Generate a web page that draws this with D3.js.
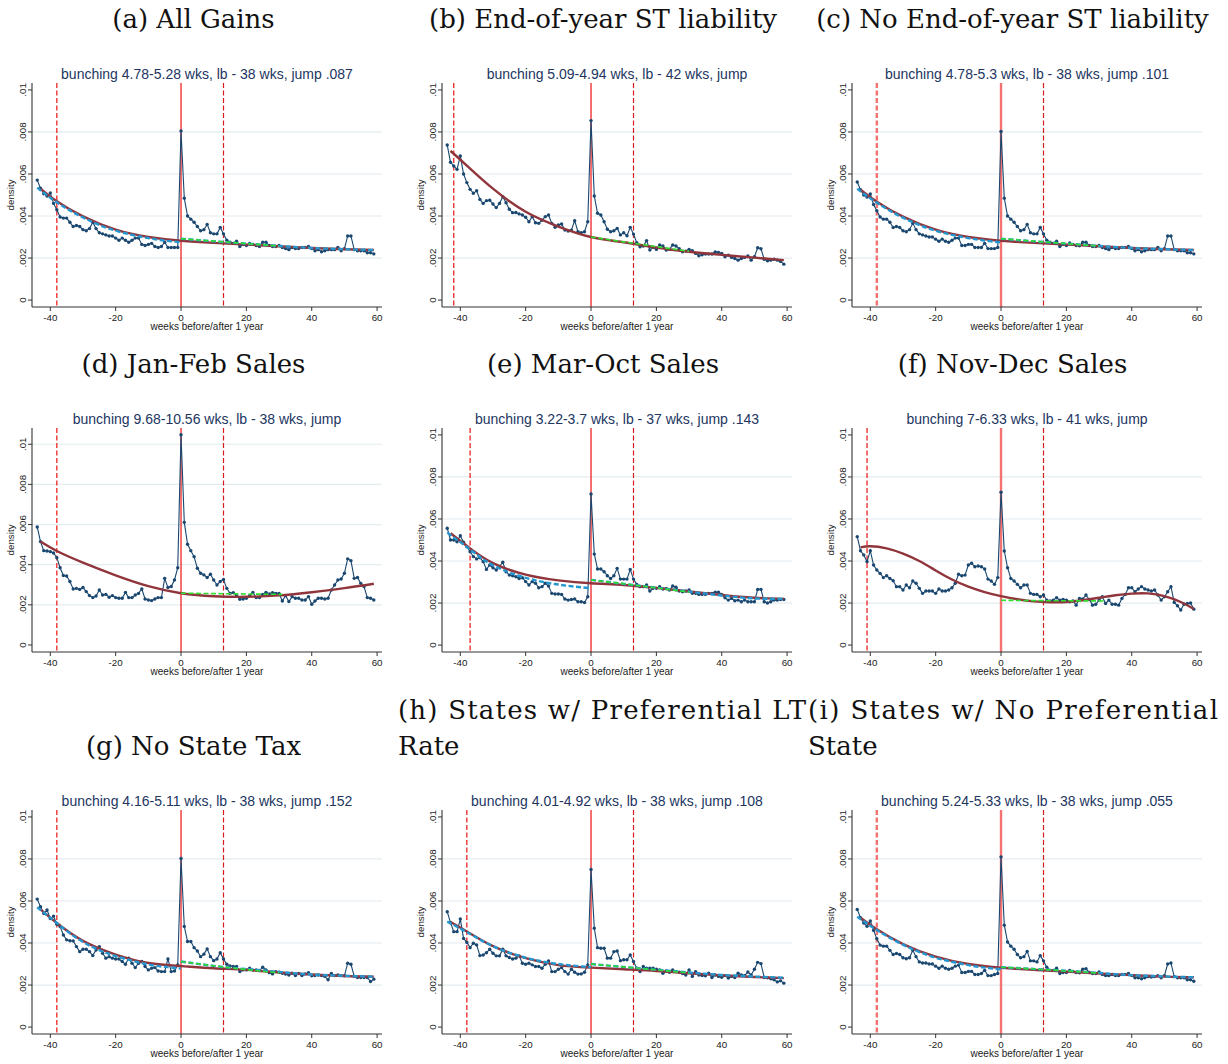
<!DOCTYPE html>
<html><head><meta charset="utf-8">
<script src="https://cdn.jsdelivr.net/npm/d3@7"></script>
<style>body{margin:0;background:#fff} svg{display:block}</style>
</head><body><svg id="chart" width="1228" height="1064"></svg>
<script>
// ---------- DATA (density values in thousandths, i.e. value * 0.001) ----------
const DENSITY_UNIT = 0.001;
const WEEKS = [-44,-43,-42,-41,-40,-39,-38,-37,-36,-35,-34,-33,-32,-31,-30,-29,-28,-27,-26,-25,-24,-23,-22,-21,-20,-19,-18,-17,-16,-15,-14,-13,-12,-11,-10,-9,-8,-7,-6,-5,-4,-3,-2,-1,0,1,2,3,4,5,6,7,8,9,10,11,12,13,14,15,16,17,18,19,20,21,22,23,24,25,26,27,28,29,30,31,32,33,34,35,36,37,38,39,40,41,42,43,44,45,46,47,48,49,50,51,52,53,54,55,56,57,58,59];
const X_TICKS = [-40,-20,0,20,40,60];
const X_TICK_LABELS = ["-40","-20","0","20","40","60"];
const Y_TICKS = [0,2,4,6,8,10];
const Y_TICK_LABELS = ["0",".002",".004",".006",".008",".01"];
const UPPER_BOUND_WEEK = 13;

const DENS_A = [5.71,5.32,5.06,4.95,5.1,4.6,4.3,3.95,3.9,3.9,
 3.7,3.5,3.55,3.5,3.35,3.3,3.4,3.7,3.4,3.2,
 3.15,3.1,3.05,3.05,2.95,2.85,2.95,2.85,2.75,2.85,
 2.95,2.95,2.65,2.6,2.65,2.7,2.55,2.5,2.55,2.75,
 2.5,2.5,2.5,2.5,8.05,4.85,4.0,3.85,3.7,3.5,
 3.3,3.35,3.6,3.2,3.15,3.15,3.45,3.15,2.85,2.75,
 2.7,2.8,2.55,2.65,2.6,2.7,2.65,2.6,2.55,2.75,
 2.75,2.6,2.55,2.55,2.6,2.5,2.45,2.4,2.5,2.45,
 2.45,2.5,2.5,2.55,2.45,2.35,2.4,2.3,2.35,2.4,
 2.4,2.4,2.5,2.35,2.45,3.05,3.05,2.4,2.35,2.35,
 2.35,2.25,2.25,2.2];
const DENS_B = [7.38,6.56,6.38,6.22,6.86,6.0,5.59,5.27,5.08,5.2,
 4.79,4.6,4.73,4.75,4.57,4.4,4.6,4.92,4.63,4.32,
 4.16,4.17,4.1,4.05,3.94,3.73,3.97,3.68,3.65,3.8,
 3.97,4.05,3.65,3.46,3.57,3.62,3.33,3.29,3.33,3.78,
 3.25,3.2,3.25,3.73,8.54,4.95,4.13,4.05,3.73,3.37,
 3.25,3.3,3.41,3.1,3.2,3.06,3.46,3.14,2.73,2.54,
 2.57,2.83,2.38,2.51,2.41,2.62,2.57,2.38,2.41,2.62,
 2.57,2.44,2.3,2.33,2.41,2.35,2.22,2.11,2.16,2.19,
 2.19,2.19,2.29,2.27,2.22,2.06,2.14,2.03,1.98,1.9,
 1.98,2.03,2.1,1.9,2.06,2.49,2.44,1.94,1.87,1.9,
 1.94,1.9,1.84,1.71];
const DENS_C = [5.62,5.25,5.0,4.9,5.05,4.55,4.25,3.95,3.85,3.85,
 3.7,3.45,3.5,3.45,3.3,3.25,3.35,3.65,3.35,3.15,
 3.1,3.05,3.0,3.0,2.9,2.8,2.9,2.8,2.75,2.85,
 2.95,2.95,2.6,2.6,2.65,2.65,2.5,2.5,2.5,2.7,
 2.45,2.45,2.45,2.5,8.02,4.85,4.0,3.85,3.7,3.5,
 3.3,3.35,3.6,3.2,3.15,3.15,3.45,3.15,2.85,2.75,
 2.7,2.8,2.55,2.65,2.6,2.72,2.65,2.6,2.58,2.75,
 2.75,2.6,2.55,2.55,2.6,2.5,2.45,2.4,2.5,2.45,
 2.45,2.5,2.5,2.55,2.45,2.35,2.4,2.3,2.35,2.4,
 2.4,2.4,2.5,2.35,2.45,3.05,3.05,2.4,2.35,2.35,
 2.35,2.25,2.25,2.2];
const DENS_D = [5.88,5.15,4.7,4.68,4.65,4.58,4.35,3.85,3.46,3.44,
 3.16,2.79,2.82,2.77,2.86,2.66,2.46,2.36,2.44,2.74,
 2.49,2.52,2.38,2.46,2.36,2.33,2.33,2.62,2.36,2.36,
 2.49,2.57,2.79,2.29,2.24,2.21,2.29,2.36,2.36,3.32,
 2.86,2.91,3.24,3.85,10.47,6.11,5.02,4.7,4.4,3.82,
 3.57,3.49,3.36,3.52,3.24,2.99,3.16,3.26,2.82,2.57,
 2.61,2.46,2.28,2.29,2.33,2.46,2.62,2.36,2.36,2.52,
 2.62,2.54,2.61,2.57,2.57,2.19,2.46,2.16,2.41,2.33,
 2.33,2.24,2.24,2.41,2.03,2.19,2.33,2.33,2.29,2.33,
 2.74,2.99,3.24,3.29,3.57,4.29,4.2,3.32,3.36,3.07,
 2.91,2.36,2.33,2.24];
const DENS_E = [5.56,5.0,5.0,4.92,5.2,4.89,4.68,4.44,4.21,4.1,
 4.16,3.97,3.6,3.81,3.68,3.57,3.73,3.94,3.49,3.33,
 3.3,3.25,3.17,3.2,3.02,2.86,3.02,2.94,2.73,2.78,
 2.94,2.81,2.46,2.43,2.43,2.41,2.19,2.14,2.17,2.19,
 2.06,2.06,2.02,2.3,7.19,4.33,3.62,3.62,3.49,3.3,
 3.17,3.3,3.65,3.14,3.14,3.14,3.6,3.14,2.89,2.78,
 2.78,2.86,2.57,2.7,2.7,2.78,2.67,2.7,2.62,2.81,
 2.75,2.57,2.54,2.57,2.62,2.46,2.46,2.41,2.41,2.41,
 2.46,2.46,2.51,2.51,2.41,2.25,2.14,2.22,2.11,2.14,
 2.06,2.14,2.06,2.06,2.06,2.65,2.65,2.06,2.0,2.06,
 2.14,2.14,2.17,2.17];
const DENS_F = [5.16,4.49,4.29,3.97,4.49,3.81,3.57,3.41,3.21,3.3,
 3.17,3.06,2.78,2.78,2.62,2.86,2.73,3.05,2.94,2.7,
 2.46,2.57,2.57,2.57,2.46,2.67,2.57,2.57,2.62,2.73,
 2.94,3.37,3.3,3.33,3.81,3.89,3.73,3.76,3.73,3.62,
 3.14,3.05,2.89,3.21,7.27,4.48,3.68,3.17,3.05,2.89,
 2.73,2.86,2.86,2.46,2.41,2.41,2.3,2.38,2.14,2.1,
 2.14,2.25,2.14,2.17,2.14,2.06,2.1,1.9,2.22,2.19,
 2.38,2.17,1.9,1.94,2.14,2.3,1.98,2.14,1.94,1.94,
 1.9,2.22,2.41,2.73,2.73,2.54,2.67,2.78,2.67,2.62,
 2.57,2.62,2.38,2.14,2.3,2.54,2.78,2.03,1.87,1.67,
 1.94,1.98,2.0,1.71];
const DENS_G = [6.09,5.73,5.41,5.57,5.17,5.28,4.89,4.78,4.38,4.15,
 4.11,4.1,3.83,3.59,3.7,3.7,3.59,3.4,3.67,3.83,
 3.51,3.28,3.35,3.28,3.24,3.24,3.12,2.99,3.28,3.04,
 2.83,3.04,3.12,2.88,2.72,2.8,2.83,2.67,2.64,2.64,
 3.24,2.64,2.67,2.96,8.02,4.79,4.07,4.07,3.78,3.62,
 3.35,3.47,3.72,3.35,3.16,3.24,3.54,3.24,2.99,2.91,
 2.88,2.88,2.64,2.72,2.72,2.8,2.71,2.72,2.69,2.85,
 2.72,2.59,2.53,2.64,2.61,2.56,2.52,2.48,2.56,2.45,
 2.55,2.45,2.53,2.59,2.44,2.45,2.48,2.45,2.41,2.25,
 2.55,2.45,2.48,2.45,2.44,3.04,2.99,2.41,2.36,2.36,
 2.36,2.36,2.17,2.28];
const DENS_H = [5.49,4.97,4.54,4.54,5.14,4.22,4.03,3.78,3.99,3.91,
 3.4,3.43,3.54,3.7,3.51,3.39,3.39,3.7,3.39,3.31,
 3.24,3.28,3.39,3.04,2.99,3.04,2.96,2.88,2.88,2.8,
 2.99,3.15,2.64,2.64,2.75,2.83,2.64,2.52,2.75,2.61,
 2.52,2.53,2.61,2.96,7.5,4.7,3.78,3.75,3.75,3.28,
 3.28,3.59,3.62,3.16,3.2,3.2,3.43,3.12,2.8,2.64,
 2.88,2.8,2.8,2.8,2.75,2.72,2.56,2.67,2.61,2.72,
 2.64,2.61,2.55,2.48,2.72,2.41,2.64,2.48,2.45,2.44,
 2.56,2.36,2.48,2.41,2.37,2.45,2.33,2.41,2.36,2.56,
 2.48,2.45,2.62,2.48,2.75,3.08,3.02,2.36,2.35,2.3,
 2.25,2.15,2.2,2.09];
const DENS_I = [5.6,5.2,4.95,4.8,5.05,4.6,4.2,3.9,3.85,3.85,
 3.65,3.45,3.5,3.45,3.3,3.25,3.3,3.65,3.35,3.1,
 3.05,3.05,3.0,3.0,2.9,2.8,2.9,2.8,2.75,2.8,
 2.9,2.95,2.6,2.6,2.65,2.65,2.5,2.5,2.55,2.7,
 2.45,2.45,2.5,2.55,8.1,4.85,4.05,3.85,3.7,3.45,
 3.3,3.35,3.6,3.15,3.15,3.1,3.4,3.15,2.85,2.7,
 2.7,2.8,2.55,2.6,2.6,2.7,2.65,2.6,2.58,2.75,
 2.78,2.6,2.55,2.55,2.62,2.5,2.45,2.45,2.5,2.45,
 2.45,2.5,2.5,2.55,2.45,2.35,2.35,2.3,2.35,2.4,
 2.38,2.4,2.45,2.35,2.45,3.0,3.05,2.4,2.35,2.35,
 2.35,2.25,2.25,2.18];

// fitted curves: [week, density in thousandths]
const RED_A = [[-43,5.3],[-38,4.7],[-30,3.98],[-20,3.35],[-10,3.0],[0,2.82],[10,2.72],[20,2.64],[30,2.56],[40,2.48],[50,2.42],[59,2.38]];
const BLUEPRE_A = [[-44,5.35],[-38,4.65],[-30,3.93],[-20,3.3],[-10,2.95],[-5,2.83],[0,2.75]];
const BLUEPOST_A = [[0,2.92],[13,2.76],[26,2.62],[40,2.48],[59,2.38]];
const GREEN_A = [[0,2.92],[13,2.77],[30,2.57]];

const RED_B = [[-43,7.1],[-38,6.4],[-30,5.3],[-20,4.2],[-10,3.5],[0,3.0],[10,2.75],[20,2.5],[30,2.3],[40,2.15],[50,2.02],[59,1.9]];
const GREEN_B = [[0,3.0],[13,2.7],[30,2.32]];

const RED_C = [[-43,5.25],[-38,4.68],[-30,3.97],[-20,3.35],[-10,3.0],[0,2.82],[10,2.72],[20,2.64],[30,2.56],[40,2.48],[50,2.42],[59,2.38]];
const BLUEPRE_C = [[-44,5.3],[-38,4.63],[-30,3.92],[-20,3.3],[-10,2.95],[-5,2.83],[0,2.75]];
const BLUEPOST_C = [[0,2.92],[13,2.76],[26,2.62],[40,2.48],[59,2.38]];
const GREEN_C = [[0,2.92],[13,2.77],[30,2.57]];

const RED_D = [[-43,5.15],[-38,4.68],[-30,4.1],[-20,3.47],[-10,2.93],[0,2.58],[10,2.43],[20,2.4],[30,2.47],[40,2.63],[50,2.83],[59,3.05]];
const GREEN_D = [[0,2.58],[15,2.55],[31,2.52]];

const RED_E = [[-43,5.32],[-37,4.6],[-30,3.9],[-20,3.35],[-10,3.08],[0,2.94],[10,2.86],[20,2.72],[30,2.55],[40,2.38],[50,2.25],[59,2.2]];
const BLUEPRE_E = [[-44,5.35],[-37,4.55],[-30,3.8],[-20,3.2],[-10,2.88],[0,2.7]];
const BLUEPOST_E = [[0,3.1],[13,2.86],[26,2.62],[40,2.36],[50,2.22],[59,2.2]];
const GREEN_E = [[0,3.1],[13,2.86],[30,2.52]];

const RED_F = [[-43,4.65],[-40,4.7],[-35,4.6],[-30,4.35],[-25,4.0],[-20,3.55],[-15,3.12],[-10,2.78],[-5,2.52],[0,2.33],[5,2.18],[10,2.08],[15,2.04],[20,2.05],[25,2.13],[30,2.25],[35,2.37],[40,2.45],[45,2.46],[50,2.33],[55,2.05],[59,1.72]];
const GREEN_F = [[0,2.13],[16,2.11],[32,2.1]];

const RED_G = [[-43,5.6],[-38,4.95],[-30,4.1],[-20,3.45],[-10,3.05],[0,2.9],[10,2.8],[20,2.72],[30,2.6],[40,2.5],[50,2.43],[59,2.4]];
const BLUEPRE_G = [[-44,5.7],[-38,4.95],[-30,4.05],[-20,3.38],[-10,2.98],[-5,2.87],[0,2.78]];
const BLUEPOST_G = [[0,3.12],[13,2.86],[26,2.68],[40,2.5],[59,2.4]];
const GREEN_G = [[0,3.12],[13,2.86],[30,2.58]];

const RED_H = [[-43,5.0],[-38,4.55],[-30,3.85],[-20,3.28],[-10,2.95],[0,2.83],[10,2.75],[20,2.67],[30,2.56],[40,2.46],[50,2.38],[59,2.33]];
const BLUEPRE_H = [[-44,5.02],[-38,4.52],[-30,3.85],[-20,3.3],[-10,3.0],[0,2.85]];
const BLUEPOST_H = [[0,3.0],[13,2.82],[26,2.65],[40,2.48],[59,2.35]];
const GREEN_H = [[0,3.0],[13,2.82],[30,2.58]];

const RED_I = [[-43,5.2],[-38,4.65],[-30,3.95],[-20,3.35],[-10,3.0],[0,2.82],[10,2.72],[20,2.64],[30,2.55],[40,2.47],[50,2.4],[59,2.37]];
const BLUEPRE_I = [[-44,5.25],[-38,4.62],[-30,3.92],[-20,3.3],[-10,2.95],[-5,2.83],[0,2.75]];
const BLUEPOST_I = [[0,2.85],[13,2.74],[26,2.62],[40,2.47],[59,2.37]];
const GREEN_I = [[0,2.85],[13,2.74],[30,2.57]];

const LB_WEEKS = [-38,-42,-38,-38,-37,-41,-38,-38,-38];
const PANEL_TITLES = ["(a) All Gains","(b) End-of-year ST liability","(c) No End-of-year ST liability",
 "(d) Jan-Feb Sales","(e) Mar-Oct Sales","(f) Nov-Dec Sales",
 "(g) No State Tax","(h) States w/ Preferential LT Rate","(i) States w/ No Preferential State"];
const SUBTITLES = ["bunching 4.78-5.28 wks, lb - 38 wks, jump .087","bunching 5.09-4.94 wks, lb - 42 wks, jump",
 "bunching 4.78-5.3 wks, lb - 38 wks, jump .101","bunching 9.68-10.56 wks, lb - 38 wks, jump",
 "bunching 3.22-3.7 wks, lb - 37 wks, jump .143","bunching 7-6.33 wks, lb - 41 wks, jump",
 "bunching 4.16-5.11 wks, lb - 38 wks, jump .152","bunching 4.01-4.92 wks, lb - 38 wks, jump .108",
 "bunching 5.24-5.33 wks, lb - 38 wks, jump .055"];
const X_TITLE = "weeks before/after 1 year";
const Y_TITLE = "density";

const PANELS = [
 {dens:DENS_A, red:RED_A, bluePre:BLUEPRE_A, bluePost:BLUEPOST_A, green:GREEN_A},
 {dens:DENS_B, red:RED_B, green:GREEN_B},
 {dens:DENS_C, red:RED_C, bluePre:BLUEPRE_C, bluePost:BLUEPOST_C, green:GREEN_C},
 {dens:DENS_D, red:RED_D, green:GREEN_D},
 {dens:DENS_E, red:RED_E, bluePre:BLUEPRE_E, bluePost:BLUEPOST_E, green:GREEN_E},
 {dens:DENS_F, red:RED_F, green:GREEN_F},
 {dens:DENS_G, red:RED_G, bluePre:BLUEPRE_G, bluePost:BLUEPOST_G, green:GREEN_G},
 {dens:DENS_H, red:RED_H, bluePre:BLUEPRE_H, bluePost:BLUEPOST_H, green:GREEN_H},
 {dens:DENS_I, red:RED_I, bluePre:BLUEPRE_I, bluePost:BLUEPOST_I, green:GREEN_I}
];

// ---------- LAYOUT / STYLE ----------
const COL_LEFT = [32, 442, 852];
const PLOT_W = 350, PLOT_H = 224;
const ROW_BOTTOM = [307, 652, 1034];
const X_DOMAIN = [-45.6, 61.5];
const Y_DOMAIN_STD = [-0.33, 10.33];
const Y_DOMAIN_D = [-0.35, 10.81];
const C = {navy:"#1a476f", maroon:"#90353b", blue:"#2496d0", green:"#2fdc2f", red:"#ee1111",
  pink:"#f47272", grid:"#e3ecef", axis:"#333", text:"#222", sub:"#22355f"};
const SANS = "'Liberation Sans', Arial, sans-serif";
const SERIF = "'DejaVu Serif', serif";

const svg = d3.select("#chart");
svg.append("rect").attr("width",1228).attr("height",1064).attr("fill","#fff");

PANELS.forEach((p, i) => {
  const col = i % 3, row = Math.floor(i / 3);
  const L = COL_LEFT[col], B = ROW_BOTTOM[row], T = B - PLOT_H;
  const yDom = i === 3 ? Y_DOMAIN_D : Y_DOMAIN_STD;
  const x = d3.scaleLinear().domain(X_DOMAIN).range([L, L + PLOT_W]);
  const yk = d3.scaleLinear().domain(yDom).range([B, T]);
  const g = svg.append("g");

  // gridlines
  const gridTicks = Y_TICKS.filter(t => t > 0 && yk(t) - T > 12);
  g.selectAll(".grid").data(gridTicks).join("line")
    .attr("x1", L).attr("x2", L + PLOT_W)
    .attr("y1", d => yk(d)).attr("y2", d => yk(d))
    .attr("stroke", C.grid).attr("stroke-width", 1.2);

  // vertical reference lines
  const thickZero = (i === 2 || i === 5 || i === 8);
  const thickLb = (i === 2 || i === 8);
  g.append("line").attr("x1", x(LB_WEEKS[i])).attr("x2", x(LB_WEEKS[i])).attr("y1", T).attr("y2", B)
    .attr("stroke", thickLb ? C.pink : C.red).attr("stroke-width", thickLb ? 2.4 : 1.2)
    .attr("stroke-dasharray", "5,2.5");
  g.append("line").attr("x1", x(UPPER_BOUND_WEEK)).attr("x2", x(UPPER_BOUND_WEEK)).attr("y1", T).attr("y2", B)
    .attr("stroke", "#d81a1a").attr("stroke-width", 1.2).attr("stroke-dasharray", "5,2.5");
  g.append("line").attr("x1", x(0)).attr("x2", x(0)).attr("y1", T).attr("y2", B)
    .attr("stroke", thickZero ? C.pink : C.red).attr("stroke-width", thickZero ? 2.4 : 1.2);

  // data series
  const pts = WEEKS.map((w, k) => [w, p.dens[k] * DENSITY_UNIT]);
  const dline = d3.line().x(d => x(d[0])).y(d => yk(d[1] / DENSITY_UNIT));
  g.append("path").attr("d", dline(pts)).attr("fill", "none").attr("stroke", C.navy).attr("stroke-width", 1.1);
  g.selectAll(".pt").data(pts).join("circle")
    .attr("cx", d => x(d[0])).attr("cy", d => yk(d[1] / DENSITY_UNIT)).attr("r", 1.7).attr("fill", C.navy);

  // fitted curves
  const fit = d3.line().x(d => x(d[0])).y(d => yk(d[1])).curve(d3.curveNatural);
  g.append("path").attr("d", fit(p.red)).attr("fill", "none").attr("stroke", C.maroon).attr("stroke-width", 2.4);
  if (p.bluePre) {
    g.append("path").attr("d", fit(p.bluePre)).attr("fill", "none").attr("stroke", C.blue)
      .attr("stroke-width", 2.4).attr("stroke-dasharray", "5,2.5");
    g.append("path").attr("d", fit(p.bluePost)).attr("fill", "none").attr("stroke", C.blue)
      .attr("stroke-width", 2.4).attr("stroke-dasharray", "5,2.5");
  }
  g.append("path").attr("d", fit(p.green)).attr("fill", "none").attr("stroke", C.green)
    .attr("stroke-width", 1.6).attr("stroke-dasharray", "5,2.5");

  // axes
  g.append("line").attr("x1", L).attr("x2", L).attr("y1", T).attr("y2", B).attr("stroke", C.axis).attr("stroke-width", 1.1);
  g.append("line").attr("x1", L).attr("x2", L + PLOT_W).attr("y1", B).attr("y2", B).attr("stroke", C.axis).attr("stroke-width", 1.1);
  g.selectAll(".xt").data(X_TICKS).join("line")
    .attr("x1", d => x(d)).attr("x2", d => x(d)).attr("y1", B).attr("y2", B + 4).attr("stroke", C.axis);
  g.selectAll(".xl").data(X_TICKS).join("text")
    .attr("x", d => x(d)).attr("y", B + 14).attr("text-anchor", "middle")
    .attr("font-family", SANS).attr("font-size", 9.8).attr("fill", C.text)
    .text((d, k) => X_TICK_LABELS[k]);
  g.selectAll(".yt").data(Y_TICKS).join("line")
    .attr("x1", L - 4).attr("x2", L).attr("y1", d => yk(d)).attr("y2", d => yk(d)).attr("stroke", C.axis);
  g.selectAll(".yl").data(Y_TICKS).join("text")
    .attr("transform", d => `translate(${L - 6.5},${yk(d)}) rotate(-90)`)
    .attr("text-anchor", "middle").attr("font-family", SANS).attr("font-size", 9.8).attr("fill", C.text)
    .text((d, k) => Y_TICK_LABELS[k]);
  g.append("text").attr("transform", `translate(${L - 18},${(T + B) / 2}) rotate(-90)`)
    .attr("text-anchor", "middle").attr("font-family", SANS).attr("font-size", 9.8).attr("fill", C.text)
    .text(Y_TITLE);
  g.append("text").attr("x", L + PLOT_W / 2).attr("y", B + 23).attr("text-anchor", "middle")
    .attr("font-family", SANS).attr("font-size", 10).attr("fill", C.text).text(X_TITLE);
  g.append("text").attr("x", L + PLOT_W / 2).attr("y", T - 4).attr("text-anchor", "middle")
    .attr("font-family", SANS).attr("font-size", 14).attr("fill", C.sub).text(SUBTITLES[i]);
});

// panel captions
const TITLE_CENTER = [193.5, 603, 1012.5];
const TITLE_BASE = [28, 373];
PANEL_TITLES.forEach((t, i) => {
  const col = i % 3, row = Math.floor(i / 3);
  const txt = (s) => svg.append("text").attr("font-family", SERIF).attr("font-size", 26).attr("fill", "#111").text(s);
  if (row < 2 || i === 6) {
    const by = row < 2 ? TITLE_BASE[row] : 755;
    txt(t).attr("x", TITLE_CENTER[col]).attr("y", by).attr("text-anchor", "middle");
  } else {
    const words = t.split(" ");
    const first = words.slice(0, words.length - 1).join(" ");
    const last = words[words.length - 1];
    const x0 = i === 7 ? 398 : 808;
    const x1 = i === 7 ? 806 : 1218;
    txt(first).attr("x", x0).attr("y", 719).attr("textLength", x1 - x0).attr("lengthAdjust", "spacing");
    txt(last).attr("x", x0).attr("y", 755);
  }
});
</script></body></html>
